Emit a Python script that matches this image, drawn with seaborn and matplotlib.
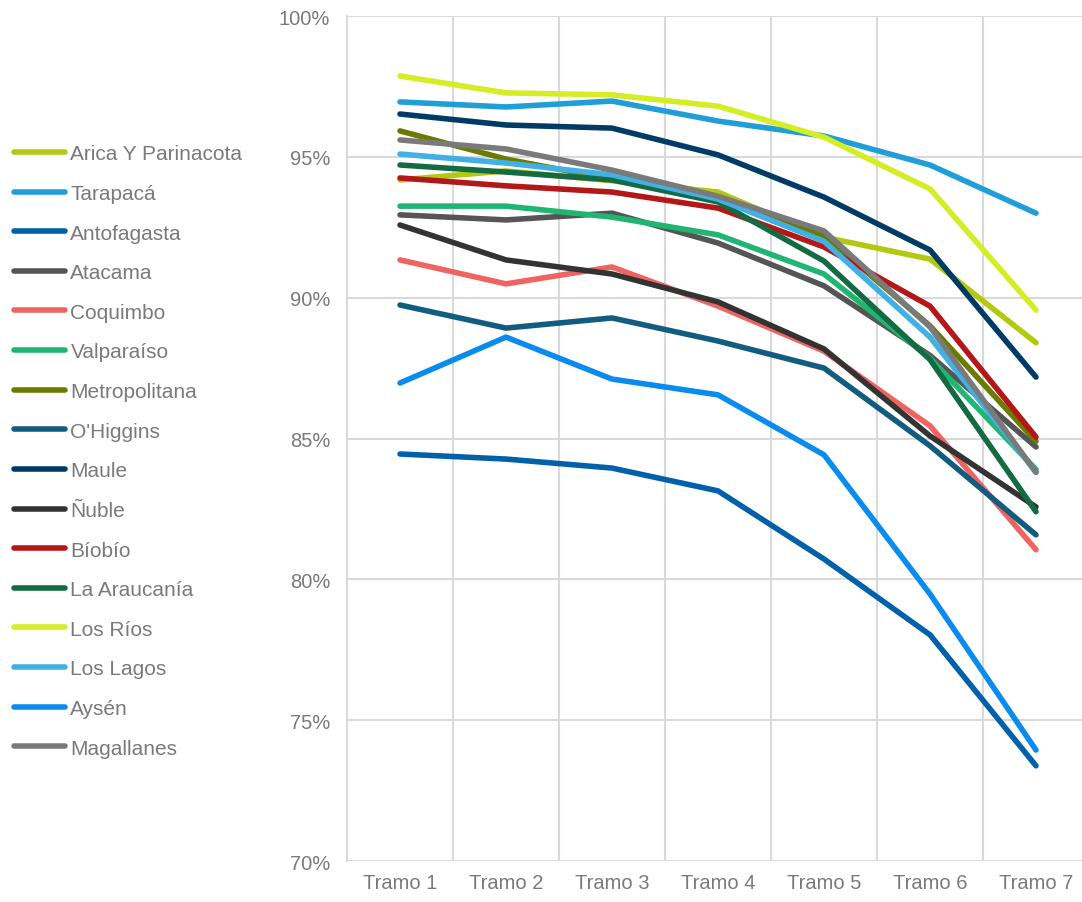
import pandas as pd
import matplotlib
matplotlib.use('Agg')
import matplotlib.pyplot as plt
from matplotlib.ticker import FuncFormatter, MultipleLocator
import seaborn as sns

# Categories and series (values in %)
tramos = ['Tramo 1', 'Tramo 2', 'Tramo 3', 'Tramo 4', 'Tramo 5', 'Tramo 6', 'Tramo 7']

regions = ['Arica Y Parinacota', 'Tarapacá', 'Antofagasta', 'Atacama', 'Coquimbo',
           'Valparaíso', 'Metropolitana', "O'Higgins", 'Maule', 'Ñuble', 'Bíobío',
           'La Araucanía', 'Los Ríos', 'Los Lagos', 'Aysén', 'Magallanes']

arica = [94.18, 94.5, 94.15, 93.75, 92.15, 91.37, 88.4]
tarapaca = [96.95, 96.77, 96.98, 96.27, 95.74, 94.71, 93.0]
antofagasta = [84.45, 84.27, 83.95, 83.14, 80.72, 78.03, 73.38]
atacama = [92.94, 92.76, 93.0, 91.94, 90.42, 87.95, 84.7]
coquimbo = [91.34, 90.49, 91.09, 89.7, 88.1, 85.45, 81.05]
valparaiso = [93.25, 93.25, 92.86, 92.23, 90.84, 87.85, 83.9]
metropolitana = [95.92, 94.92, 94.2, 93.5, 92.2, 89.0, 84.9]
ohiggins = [89.74, 88.92, 89.28, 88.46, 87.5, 84.74, 81.58]
maule = [96.52, 96.13, 96.02, 95.07, 93.57, 91.69, 87.18]
nuble = [92.58, 91.34, 90.84, 89.85, 88.18, 85.09, 82.57]
biobio = [94.25, 93.97, 93.75, 93.18, 91.8, 89.7, 85.05]
araucania = [94.71, 94.46, 94.18, 93.4, 91.3, 87.8, 82.4]
los_rios = [97.87, 97.27, 97.2, 96.8, 95.7, 93.86, 89.56]
los_lagos = [95.1, 94.78, 94.36, 93.5, 92.0, 88.6, 83.8]
aysen = [86.97, 88.6, 87.11, 86.55, 84.42, 79.48, 73.94]
magallanes = [95.6, 95.28, 94.53, 93.6, 92.37, 88.96, 83.8]

series = [arica, tarapaca, antofagasta, atacama, coquimbo, valparaiso, metropolitana,
          ohiggins, maule, nuble, biobio, araucania, los_rios, los_lagos, aysen, magallanes]

colors = ['#b3c90f', '#1f9ed8', '#0060aa', '#555555', '#ef6461', '#21b573', '#6a7b00',
          '#125c80', '#003a66', '#333333', '#b31717', '#146b43', '#d4ed24', '#40b0e5',
          '#0a8cef', '#7a7a7a']

rows = []
for reg, vals in zip(regions, series):
    for t, v in zip(tramos, vals):
        rows.append({'Tramo': t, 'Región': reg, 'Valor': v})
df = pd.DataFrame(rows)

sns.set_style('white')
plt.rcParams['font.family'] = ['Liberation Sans', 'DejaVu Sans']
text_color = '#7a7a7a'
grid_color = '#d9d9d9'

fig = plt.figure(figsize=(10.82, 9.03), dpi=100)
ax = fig.add_axes([347 / 1082, 1 - 862 / 903, (1089 - 347) / 1082, (862 - 17) / 903])

sns.lineplot(data=df, x='Tramo', y='Valor', hue='Región', hue_order=regions,
             palette=dict(zip(regions, colors)), sort=False, linewidth=4,
             ax=ax, legend=False)
for line in ax.lines:
    line.set_solid_capstyle('round')
    line.set_solid_joinstyle('round')

ax.set_xlim(-0.5, 6.5)
ax.set_ylim(70, 100)
ax.yaxis.set_major_locator(MultipleLocator(5))
ax.yaxis.set_major_formatter(FuncFormatter(lambda v, p: f'{v:.0f}%'))
ax.set_xticks(range(len(tramos)))
ax.set_xticklabels(tramos)
ax.set_xticks([i + 0.5 for i in range(len(tramos) - 1)], minor=True)
ax.grid(axis='y', which='major', color=grid_color, linewidth=1.5)
ax.grid(axis='x', which='minor', color=grid_color, linewidth=1.5)
ax.grid(axis='x', which='major', visible=False)
ax.set_axisbelow(True)
ax.set_xlabel('')
ax.set_ylabel('')

for side in ['top', 'right', 'bottom']:
    ax.spines[side].set_visible(False)
ax.spines['left'].set_color(grid_color)
ax.spines['left'].set_linewidth(1.5)

ax.tick_params(axis='both', which='both', length=0, labelsize=14.5, colors=text_color)
ax.tick_params(axis='y', pad=12)
ax.tick_params(axis='x', pad=9)

handles = [plt.Line2D([], [], color=c, linewidth=4, solid_capstyle='round') for c in colors]
fig.legend(handles, regions, loc='center left', bbox_to_anchor=(0.0075, 0.4995),
           frameon=False, fontsize=15, labelcolor=text_color, handlelength=2.45,
           handletextpad=0.24, labelspacing=0.99, borderaxespad=0.0, borderpad=0.3)

fig.savefig('out.png', dpi=100)
